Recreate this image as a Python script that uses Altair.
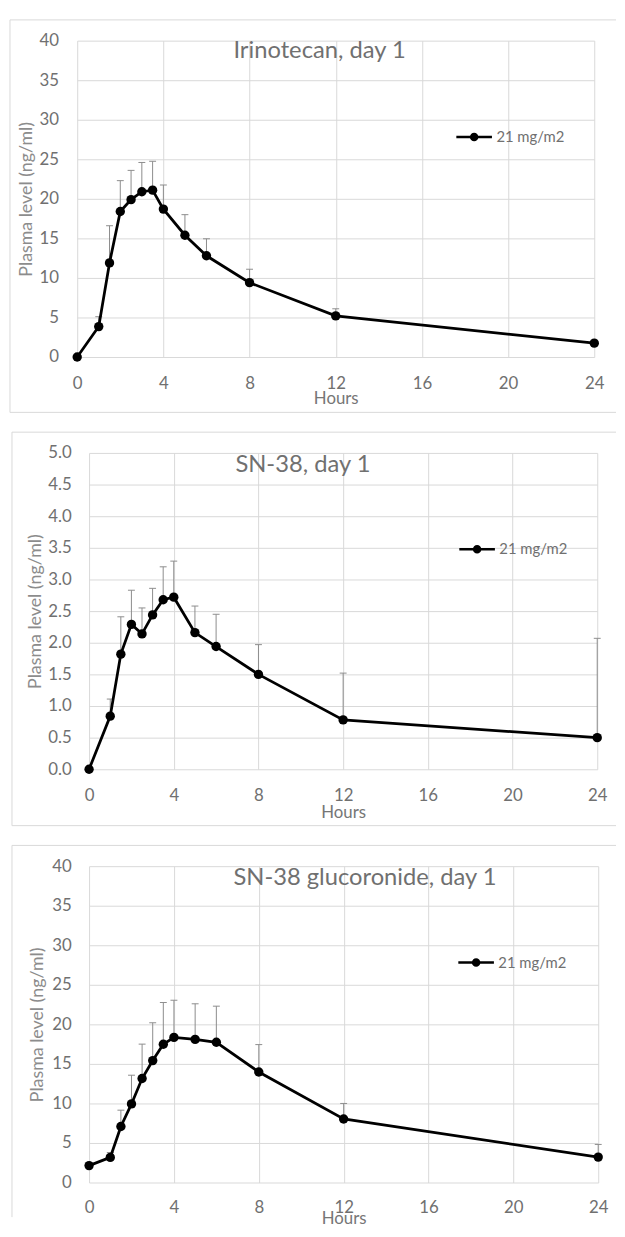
import altair as alt
import pandas as pd

# ---------------- data ----------------
hours = [0, 1, 1.5, 2, 2.5, 3, 3.5, 4, 5, 6, 8, 12, 24]

irinotecan = [0, 3.85, 11.9, 18.4, 19.9, 20.9, 21.1, 18.7, 15.4, 12.8, 9.4, 5.2, 1.75]
irinotecan_upper = [None, 5.1, 16.6, 22.3, 23.6, 24.6, 24.75, 21.75, 18.0, 14.95, 11.1, 6.1, None]

sn38 = [0, 0.84, 1.82, 2.29, 2.14, 2.44, 2.68, 2.72, 2.16, 1.94, 1.50, 0.78, 0.50]
sn38_upper = [None, 1.11, 2.41, 2.83, 2.55, 2.86, 3.20, 3.29, 2.58, 2.45, 1.97, 1.52, 2.07]

sn38g = [2.14, 3.18, 7.09, 9.94, 13.15, 15.42, 17.48, 18.35, 18.1, 17.73, 13.98, 8.04, 3.22]
sn38g_upper = [None, 3.8, 9.15, 13.57, 17.5, 20.2, 22.76, 23.05, 22.6, 22.3, 17.44, 10.0, 4.82]

dose_label = "21 mg/m2"
titles = ["Irinotecan, day 1", "SN-38, day 1", "SN-38 glucoronide, day 1"]
x_ticks = [0, 4, 8, 12, 16, 20, 24]
y_ticks_40 = [0, 5, 10, 15, 20, 25, 30, 35, 40]
y_ticks_5 = [0.0, 0.5, 1.0, 1.5, 2.0, 2.5, 3.0, 3.5, 4.0, 4.5, 5.0]

# ---------------- style ----------------
FONT = "Lato"
GRID = "#d9d9d9"
TICK_TXT = "#707070"
TITLE_TXT = "#707070"
YTITLE_TXT = "#8c8c8c"
XTITLE_TXT = "#767676"
ERR = "#8c8c8c"
LEGEND_PATH = ("M-1,0L1,0M-0.17,0A0.17,0.17,0,1,1,0.17,0A0.17,0.17,0,1,1,-0.17,0Z")


def panel(values, upper, title, ymax, yticks, yfmt, width, height,
          title_x, title_y, ylab_pad, ytitle_pad, xlab_pad, xtitle_y,
          legend_x, b_left, b_right, b_bottom, draw_bottom=True):
    df = pd.DataFrame({"hours": hours, "level": values, "upper": upper,
                       "dose": [dose_label] * len(hours)})
    base = alt.Chart(df)

    xscale = alt.Scale(domain=[0, 24], nice=False, zero=False)
    yscale = alt.Scale(domain=[0, ymax], nice=False, zero=True)
    xaxis = alt.Axis(values=x_ticks, title="Hours", grid=True, gridColor=GRID,
                     gridWidth=1, domain=False, ticks=False, tickSize=0,
                     labelFont=FONT, labelFontSize=17, labelColor=TICK_TXT,
                     labelPadding=xlab_pad, titleFont=FONT, titleFontSize=17,
                     titleFontWeight="normal", titleColor=XTITLE_TXT,
                     titleY=xtitle_y, titleX=width / 2, titleBaseline="top",
                     labelFlush=False)
    yaxis = alt.Axis(values=yticks, format=yfmt, title="Plasma level (ng/ml)",
                     grid=True, gridColor=GRID, gridWidth=1, domain=False,
                     ticks=False, tickSize=0, labelFont=FONT, labelFontSize=17,
                     labelColor=TICK_TXT, labelPadding=ylab_pad, titleFont=FONT,
                     titleFontSize=18, titleFontWeight="normal",
                     titleColor=YTITLE_TXT, titlePadding=ytitle_pad,
                     labelFlush=False)

    X = alt.X("hours:Q", scale=xscale, axis=xaxis)
    valid = base.transform_filter("isValid(datum.upper)")

    err = valid.mark_rule(color=ERR, strokeWidth=1).encode(
        x=X, y=alt.Y("level:Q", scale=yscale, axis=yaxis), y2="upper:Q")
    cap = valid.mark_tick(color=ERR, thickness=1, size=7, orient="horizontal",
                          opacity=1).encode(
        x=X, y=alt.Y("upper:Q", scale=yscale, axis=yaxis))
    line = base.mark_line(color="black", strokeWidth=2.8).encode(
        x=X, y=alt.Y("level:Q", scale=yscale, axis=yaxis))
    pts = base.mark_point(filled=True, size=90, opacity=1).encode(
        x=X, y=alt.Y("level:Q", scale=yscale, axis=yaxis),
        color=alt.Color("dose:N", scale=alt.Scale(range=["black"]),
                        legend=alt.Legend(title=None, orient="none",
                                          legendX=legend_x, legendY=78,
                                          symbolType=LEGEND_PATH,
                                          symbolSize=1296,
                                          symbolStrokeColor="black",
                                          symbolFillColor="black",
                                          symbolStrokeWidth=2.5,
                                          symbolOpacity=1,
                                          labelFont=FONT, labelFontSize=15,
                                          labelColor=TITLE_TXT, labelOffset=3,
                                          padding=0)))

    # chart title inside the plot area, and a light frame around the chart
    one = alt.Chart(pd.DataFrame({"title": [title]}))
    head = one.mark_text(align="left", baseline="middle", font=FONT,
                         fontSize=24, color=TITLE_TXT).encode(
        text="title:N", x=alt.value(title_x), y=alt.value(title_y))
    frame_top = one.mark_rule(color=GRID, strokeWidth=1).encode(
        x=alt.value(b_left), x2=alt.value(b_right), y=alt.value(-21))
    frame_left = one.mark_rule(color=GRID, strokeWidth=1).encode(
        x=alt.value(b_left), y=alt.value(-21), y2=alt.value(b_bottom))
    layers = [frame_top, frame_left]
    if draw_bottom:
        layers.append(one.mark_rule(color=GRID, strokeWidth=1).encode(
            x=alt.value(b_left), x2=alt.value(b_right), y=alt.value(b_bottom)))

    return alt.layer(*layers, err, cap, line, pts, head).properties(
        width=width, height=height)


p1 = panel(irinotecan, irinotecan_upper, titles[0], 40, y_ticks_40, "d",
           523, 320, 158, 11, 19, 3, 19, 34, 382, -68, 545, 376)
p2 = panel(sn38, sn38_upper, titles[1], 5, y_ticks_5, ".1f",
           514, 320, 148, 12, 18, 3, 19, 36, 385, -78, 533, 377)
p3 = panel(sn38g, sn38g_upper, titles[2], 40, y_ticks_40, "d",
           515, 320, 146, 12.5, 18, 5, 17, 28, 384, -78, 533, 355,
           draw_bottom=False)

blank = alt.Chart(pd.DataFrame({"b": [0]})).mark_point(opacity=0).encode(
    x=alt.value(0), y=alt.value(0)).properties(width=1, height=1)

row2 = alt.hconcat(blank, p2, spacing=11, bounds="flush")
row3 = alt.hconcat(blank, p3, spacing=11, bounds="flush")

chart = alt.vconcat(p1, row2, row3, spacing=18).properties(
    padding={"left": 1, "top": 4, "right": 0, "bottom": -1}
).configure_view(strokeWidth=0).resolve_scale(color="independent")

chart.save("out.html", embed_options={"renderer": "svg", "actions": False})
